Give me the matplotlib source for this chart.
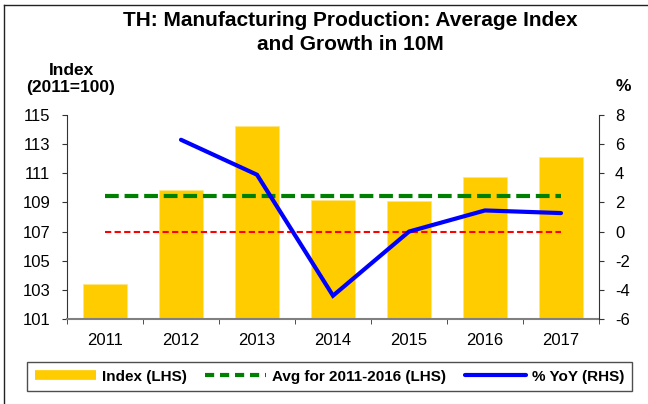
import numpy as np
import matplotlib
matplotlib.use('Agg')
from matplotlib import pyplot as plt
from matplotlib.lines import Line2D

plt.rcParams['font.family'] = ['Liberation Sans', 'DejaVu Sans']
plt.rcParams['axes.unicode_minus'] = False

# Datos
years = ['2011', '2012', '2013', '2014', '2015', '2016', '2017']
index_vals = [103.38, 109.86, 114.25, 109.17, 109.10, 110.75, 112.14]
avg_2011_2016 = 109.42
yoy_years = ['2012', '2013', '2014', '2015', '2016', '2017']
yoy_vals = [6.3, 3.9, -4.4, 0.0, 1.45, 1.27]
left_ticks = [101, 103, 105, 107, 109, 111, 113, 115]
right_ticks = [-6, -4, -2, 0, 2, 4, 6, 8]

W, H = 648, 404
fig = plt.figure(figsize=(W / 100, H / 100), dpi=100)
ax = fig.add_axes([67 / W, (H - 319) / H, 532 / W, 204 / H])
ax2 = ax.twinx()

x = np.arange(len(years))
x_yoy = np.array([years.index(y) for y in yoy_years])

ax.bar(x, np.array(index_vals) - 101, bottom=101, width=0.58, color='#FFCC00',
       edgecolor='#FFE680', linewidth=0.6, zorder=2)
ax.plot([x[0], x[-1]], [avg_2011_2016] * 2, color='#008000', lw=3.0,
        dashes=(3.3, 1.4), zorder=3)

ax2.plot([x[0], x[-1]], [0, 0], color='#FF0000', lw=1.5, dashes=(3, 1.6), zorder=3)
ax2.plot(x_yoy, yoy_vals, color='#0000FF', lw=3.0, solid_capstyle='round',
         solid_joinstyle='miter', zorder=4)

ax.set_xlim(-0.5, len(years) - 0.5)
ax.set_ylim(101, 115)
ax2.set_ylim(-6, 8)
ax.set_yticks(left_ticks)
ax2.set_yticks(right_ticks)
ax.set_xticks(x)
ax.set_xticklabels(years)
ax.set_xticks(np.arange(len(years) + 1) - 0.5, minor=True)

for a in (ax, ax2):
    a.spines['top'].set_visible(False)
ax.set_zorder(1)
ax2.set_zorder(2)
ax2.patch.set_visible(False)
ax.spines['left'].set_color('#333333')
ax2.spines['right'].set_color('#333333')
ax2.spines['left'].set_visible(False)
ax2.spines['bottom'].set_visible(False)
ax.spines['right'].set_visible(False)
ax.spines['bottom'].set_color('#808080')
ax.spines['bottom'].set_linewidth(1.5)

ax.tick_params(axis='y', labelsize=12, length=3.6, pad=8.5, color='#333333')
ax2.tick_params(axis='y', labelsize=12, length=3.6, pad=8, color='#333333')
ax.tick_params(axis='x', which='major', length=0, labelsize=12, pad=10)
ax.tick_params(axis='x', which='minor', length=3.6, color='#333333')

# Titulo y etiquetas de ejes
fig.text(350 / W, 1 - 26 / H, 'TH: Manufacturing Production: Average Index',
         ha='center', va='baseline', fontsize=15, fontweight='bold')
fig.text(350 / W, 1 - 50 / H, 'and Growth in 10M',
         ha='center', va='baseline', fontsize=15, fontweight='bold')
fig.text(71 / W, 1 - 75 / H, 'Index', ha='center', va='baseline',
         fontsize=12.5, fontweight='bold')
fig.text(71 / W, 1 - 92 / H, '(2011=100)', ha='center', va='baseline',
         fontsize=12.5, fontweight='bold')
fig.text(623 / W, 1 - 91 / H, '%', ha='center', va='baseline',
         fontsize=12.5, fontweight='bold')

# Leyenda
handles = [Line2D([], [], color='#FFCC00', lw=7, solid_capstyle='butt'),
           Line2D([], [], color='#008000', lw=3.0, dashes=(2.2, 1.4)),
           Line2D([], [], color='#0000FF', lw=3.0, solid_capstyle='round')]
labels = ['Index (LHS)', 'Avg for 2011-2016 (LHS)', '% YoY (RHS)']
leg = fig.legend(handles, labels, loc='center', ncol=3, mode='expand',
                 bbox_to_anchor=(27 / W, (H - 393) / H, 605 / W, 33 / H),
                 prop={'weight': 'bold', 'size': 11}, frameon=True,
                 fancybox=False, edgecolor='#222222', handlelength=4.0,
                 handletextpad=0.4, columnspacing=0.6, borderpad=0.5,
                 borderaxespad=0)
leg.get_frame().set_linewidth(1.0)

# Marco de la figura (izquierda y arriba)
fig.add_artist(Line2D([4 / W, 4 / W], [0, 1 - 4.5 / H], color='#222222', lw=1.0,
                      transform=fig.transFigure))
fig.add_artist(Line2D([4 / W, 1], [1 - 4.5 / H, 1 - 4.5 / H], color='#222222',
                      lw=1.0, transform=fig.transFigure))

fig.savefig('out.png', dpi=100)
